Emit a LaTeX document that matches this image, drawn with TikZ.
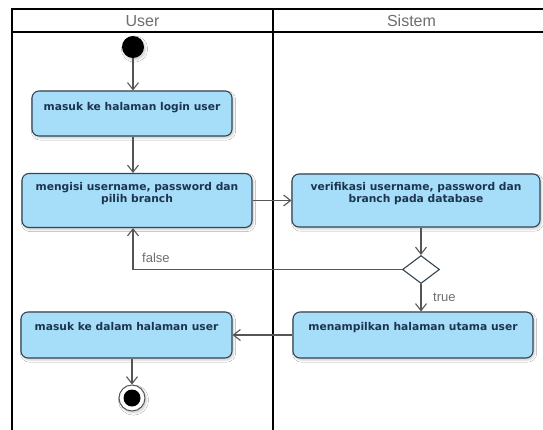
\documentclass[tikz,border=0pt]{standalone}
\usepackage{fontspec}
\setmainfont{Liberation Sans}
\newfontfamily\boxfont{DejaVu Sans}
\usetikzlibrary{arrows.meta,shapes.geometric,shadows.blur}
\definecolor{boxfill}{RGB}{166,221,249}
\definecolor{boxline}{RGB}{55,70,82}
\definecolor{txtcol}{RGB}{28,52,78}
\definecolor{flowcol}{RGB}{85,85,85}
\definecolor{headcol}{RGB}{110,110,110}
\tikzset{
  actbox/.style={draw=boxline, fill=boxfill, rounded corners=7pt, line width=1.1pt,
    blur shadow={shadow xshift=1.5pt, shadow yshift=-2pt, shadow opacity=20, shadow blur steps=5}},
  acttext/.style={font=\boxfont\bfseries\fontsize{10.7}{12}\selectfont, text=txtcol,
    align=center, inner sep=0pt, anchor=north},
  flow/.style={draw=flowcol, line width=1.2pt, -{Straight Barb[length=7pt,width=11pt,line width=1.1pt]}},
  lanehead/.style={font=\fontsize{16}{18}\selectfont, text=headcol, inner sep=0pt},
  guard/.style={font=\fontsize{13}{15}\selectfont, text=headcol, inner sep=0pt},
  frameline/.style={draw=black, line width=2pt},
}
\begin{document}
\begin{tikzpicture}[x=1pt,y=-1pt]
\useasboundingbox (0,0) rectangle (543,429);
\clip (0,0) rectangle (543,429);
\fill[white] (0,0) rectangle (543,429);
% swimlane frame
\draw[frameline] (12,440) -- (12,9) -- (560,9);
\draw[frameline] (12,32) -- (560,32);
\draw[frameline] (273,9) -- (273,440);
\node[lanehead] (hUser) at (142.5,21) {User};
\node[lanehead] (hSys) at (411.5,21) {Sistem};
% start
\node[circle, fill=black, minimum size=22pt, inner sep=0pt,
  blur shadow={shadow xshift=1.5pt, shadow yshift=-2pt, shadow opacity=20, shadow blur steps=5}] (start) at (133,47) {};
% actions
\node[actbox, minimum width=200pt, minimum height=45pt] (b1) at (132,113.5) {};
\node[acttext] (b1t) at (132,102) {masuk ke halaman login user};
\node[actbox, minimum width=230pt, minimum height=54pt] (b2) at (137,200.5) {};
\node[acttext] (b2t) at (137,182.5) {mengisi username, password dan\\pilih branch};
\node[actbox, minimum width=248pt, minimum height=53pt] (b3) at (416,200.5) {};
\node[acttext] (b3t) at (416,182.5) {verifikasi username, password dan\\branch pada database};
\node[draw=boxline, fill=white, line width=1.1pt, diamond, minimum width=37pt, minimum height=28pt, inner sep=0pt] (d) at (421,269.5) {};
\node[actbox, minimum width=240pt, minimum height=46pt] (b4) at (413,335) {};
\node[acttext] (b4t) at (413,322) {menampilkan halaman utama user};
\node[actbox, minimum width=211pt, minimum height=46pt] (b5) at (126.5,335) {};
\node[acttext] (b5t) at (126.5,322) {masuk ke dalam halaman user};
% end
\node[circle, draw=flowcol, line width=1pt, fill=white, minimum size=26pt, inner sep=0pt,
  blur shadow={shadow xshift=1.5pt, shadow yshift=-2pt, shadow opacity=20, shadow blur steps=5}] (end) at (132,398) {};
\node[circle, fill=black, minimum size=17pt, inner sep=0pt] (endin) at (end.center) {};
% flows
\draw[flow] (start) -- (start |- b1.north);
\draw[flow] (b1.south -| start) -- (b2.north -| start);
\draw[flow] (b2) -- (b3);
\draw[flow] (b3.south -| d) -- (d.north);
\draw[flow] (d.west) -- (d.west -| start) -- (b2.south -| start);
\draw[flow] (d.south) -- (d.south |- b4.north);
\draw[flow] (b4) -- (b5);
\draw[flow] (b5.south -| end) -- (end.north);
% guards
\node[guard, anchor=west] (gfalse) at (142,258) {false};
\node[guard, anchor=west] (gtrue) at (433,297) {true};
\end{tikzpicture}
\end{document}
